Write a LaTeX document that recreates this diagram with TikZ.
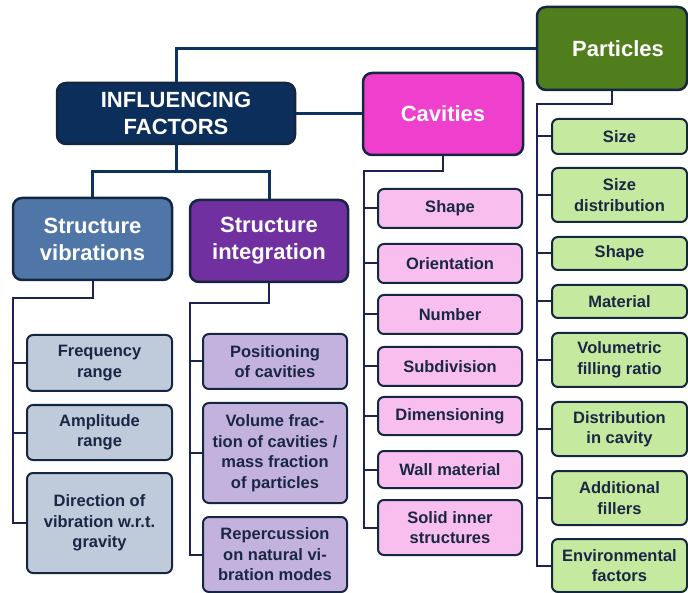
\documentclass[tikz,border=0pt]{standalone}
\usepackage{fontspec}
\setmainfont{Liberation Sans}

\definecolor{infcol}{RGB}{12,46,90}
\definecolor{svcol}{RGB}{79,118,166}
\definecolor{sicol}{RGB}{112,48,160}
\definecolor{cavcol}{RGB}{238,64,204}
\definecolor{parcol}{RGB}{80,126,28}
\definecolor{svlight}{RGB}{191,202,219}
\definecolor{silight}{RGB}{196,178,222}
\definecolor{cavlight}{RGB}{248,191,238}
\definecolor{parlight}{RGB}{198,233,160}
\definecolor{bordercol}{RGB}{20,38,64}
\definecolor{linecol}{RGB}{14,50,96}
\definecolor{sublinecol}{RGB}{28,35,83}
\definecolor{childtext}{RGB}{26,39,68}

\tikzset{
  hbox/.style={draw=bordercol, line width=2.5pt, rounded corners=9pt, fill=#1,
    text=white, align=center, inner sep=0pt,
    font=\bfseries\fontsize{22}{27}\selectfont},
  cbox/.style={draw=bordercol, line width=2pt, rounded corners=6pt, fill=#1,
    text=childtext, align=center, inner sep=0pt,
    font=\bfseries\fontsize{16.5}{20.5}\selectfont},
  link/.style={draw=linecol, line width=3pt},
  branch/.style={draw=sublinecol, line width=2pt}
}

\begin{document}
\begin{tikzpicture}[x=1pt, y=-1pt]
\useasboundingbox (0,0) rectangle (688,593);
%%%%%%%%% main boxes
\node[hbox=infcol, minimum width=238pt, minimum height=61pt] (inf) at (176,113.5) {INFLUENCING\\FACTORS};
\node[hbox=svcol, minimum width=159pt, minimum height=82pt] (sv) at (92.5,239) {Structure\\vibrations};
\node[hbox=sicol, minimum width=158pt, minimum height=82pt] (si) at (269,241) {Structure\\integration};
\node[hbox=cavcol, minimum width=160pt, minimum height=82pt] (cav) at (443,114) {Cavities};
\node[hbox=parcol, minimum width=150pt, minimum height=83pt] (par) at (612,48.5) {\hspace{12pt}Particles};

%%%%%%%%% links from the root
\coordinate (j1) at (176,172);
\draw[link] (inf.north) |- (par.west);
\draw[link] (inf.east) -- (inf.east -| cav.west);
\draw[link] (inf.south) -- (j1) -| (sv.north);
\draw[link] (j1) -| (si.north);

%%%%%%%%% structure vibrations
\foreach \n/\y/\h/\t in {fr/363/56/{Frequency\\range},
                         am/432.5/55/{Amplitude\\range},
                         di/523/100/{Direction of\\vibration w.r.t.\\gravity}}
  \node[cbox=svlight, minimum width=145pt, minimum height=\h pt] (\n) at (99.5,\y) {\t};
\coordinate (svs) at (13,298);
\draw[branch] (sv.south) |- (svs) |- (di.west);
\foreach \n in {fr,am}
  \draw[branch] (svs |- \n.west) -- (\n.west);

%%%%%%%%% structure integration
\foreach \n/\y/\h/\t in {po/361.5/55/{Positioning\\of cavities},
                         vo/453/100/{Volume frac-\\tion of cavities /\\mass fraction\\of particles},
                         re/554.5/75/{Repercussion\\on natural vi-\\bration modes}}
  \node[cbox=silight, minimum width=144pt, minimum height=\h pt] (\n) at (275,\y) {\t};
\coordinate (sis) at (190,303);
\draw[branch] (si.south) |- (sis) |- (re.west);
\foreach \n in {po,vo}
  \draw[branch] (sis |- \n.west) -- (\n.west);

%%%%%%%%% cavities
\foreach \n/\y/\h/\t in {csh/208.5/39/{Shape},
                         cor/263.5/39/{Orientation},
                         cnu/314.5/39/{Number},
                         csu/366.5/39/{Subdivision},
                         cdi/416/38/{Dimensioning},
                         cwa/469.5/37/{Wall material},
                         cso/527.5/55/{Solid inner\\structures}}
  \node[cbox=cavlight, minimum width=144pt, minimum height=\h pt] (\n) at (450,\y) {\t};
\coordinate (cavs) at (364,171);
\draw[branch] (cav.south) |- (cavs) |- (cso.west);
\foreach \n in {csh,cor,cnu,csu,cdi,cwa}
  \draw[branch] (cavs |- \n.west) -- (\n.west);

%%%%%%%%% particles
\foreach \n/\y/\h/\t in {psi/136.5/35/{Size},
                         psd/195/54/{Size\\distribution},
                         psh/253.5/33/{Shape},
                         pma/301.5/33/{Material},
                         pvo/360/54/{Volumetric\\filling ratio},
                         pdi/429/54/{Distribution\\in cavity},
                         pad/498/54/{Additional\\fillers},
                         pen/565.5/53/{Environmental\\factors}}
  \node[cbox=parlight, minimum width=135pt, minimum height=\h pt] (\n) at (619.5,\y) {\t};
\coordinate (pars) at (537,104);
\draw[branch] (par.south) |- (pars) |- (pen.west);
\foreach \n in {psi,psd,psh,pma,pvo,pdi,pad}
  \draw[branch] (pars |- \n.west) -- (\n.west);

\end{tikzpicture}
\end{document}
